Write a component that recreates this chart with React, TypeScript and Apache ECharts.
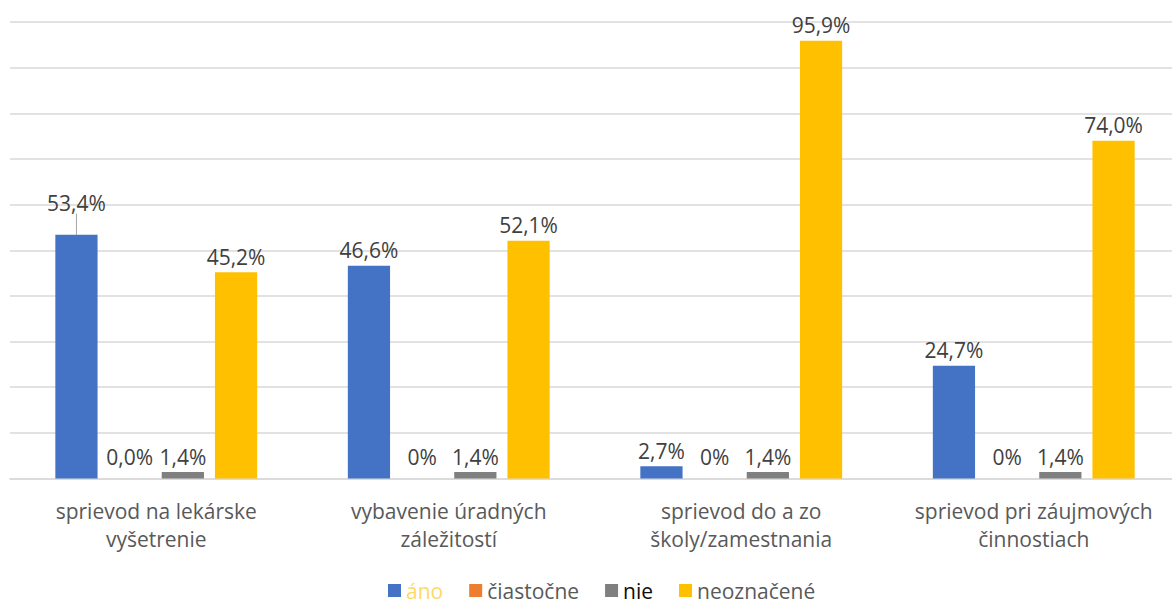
import React, { useEffect, useRef } from "react";
import * as echarts from "echarts";

// Categories (two-line axis labels)
const categories = [
  "sprievod na lekárske\nvyšetrenie",
  "vybavenie úradných\nzáležitostí",
  "sprievod do a zo\nškoly/zamestnania",
  "sprievod pri záujmových\nčinnostiach",
];

const seriesNames = ["áno", "čiastočne", "nie", "neoznačené"];

// Percent values per answer
const ano = [53.4, 46.6, 2.7, 24.7];
const ciastocne = [0, 0, 0, 0];
const nie = [1.4, 1.4, 1.4, 1.4];
const neoznacene = [45.2, 52.1, 95.9, 74.0];

// Printed labels of the zero bars
const ciastocneLabels = ["0,0%", "0%", "0%", "0%"];

const colors = ["#4472C4", "#ED7D31", "#7F7F7F", "#FFC000"];
const legendTextColors = ["#FFD966", "#595959", "#0D0D0D", "#595959"];

const FONT = "'Open Sans', 'Noto Sans', sans-serif";

const fmt = (v: number) => v.toFixed(1).replace(".", ",") + "%";

export default function App() {
  const ref = useRef<HTMLDivElement>(null);

  useEffect(() => {
    if (!ref.current) return;
    const chart = echarts.init(ref.current, undefined, { renderer: "svg" });

    const values = [ano, ciastocne, nie, neoznacene];

    const series = values.map((vals, si) => ({
      name: seriesNames[si],
      type: "bar" as const,
      barGap: "26%",
      barCategoryGap: "31%",
      itemStyle: { color: colors[si] },
      data: vals.map((v, i) => {
        const moved = si === 0 && i === 0;
        return {
          value: v,
          label: {
            formatter: si === 1 ? ciastocneLabels[i] : fmt(v),
          },
          labelLine: {
            show: moved,
            lineStyle: { color: "#A6A6A6", width: 1 },
          },
        };
      }),
      label: {
        show: true,
        position: "top",
        distance: si === 1 ? 11 : 5,
        color: "#404040",
        fontSize: 21,
        fontFamily: FONT,
      },
      labelLine: { show: false },
      labelLayout: (params: any) =>
        si === 0 && params.dataIndex === 0 ? { dy: -16 } : {},
    }));

    chart.setOption({
      animation: false,
      textStyle: { fontFamily: FONT },
      grid: {
        left: 10,
        width: 1170,
        top: 22,
        bottom: 124.5,
        containLabel: false,
        outerBoundsMode: "none",
      },
      legend: {
        top: 580,
        left: 388,
        padding: 0,
        itemWidth: 13,
        itemHeight: 13,
        itemGap: 26,
        icon: "rect",
        textStyle: { fontSize: 21, fontFamily: FONT },
        data: seriesNames.map((n, i) => ({
          name: n,
          textStyle: { color: legendTextColors[i] },
        })),
      },
      xAxis: {
        type: "category",
        data: categories,
        axisLine: { show: true, lineStyle: { color: "#D9D9D9", width: 1.5 } },
        axisTick: { show: false },
        axisLabel: {
          interval: 0,
          hideOverlap: false,
          color: "#595959",
          fontSize: 21,
          lineHeight: 28,
          margin: 18,
          fontFamily: FONT,
        },
      },
      yAxis: {
        type: "value",
        min: 0,
        max: 100,
        interval: 10,
        axisLabel: { show: false },
        axisLine: { show: false },
        axisTick: { show: false },
        splitLine: { lineStyle: { color: "#D9D9D9", width: 1.5 } },
      },
      series,
    });

    return () => chart.dispose();
  }, []);

  return (
    <div
      ref={ref}
      style={{
        position: "fixed",
        left: 0,
        top: 0,
        width: 1172,
        height: 603,
        background: "#fff",
      }}
    />
  );
}
